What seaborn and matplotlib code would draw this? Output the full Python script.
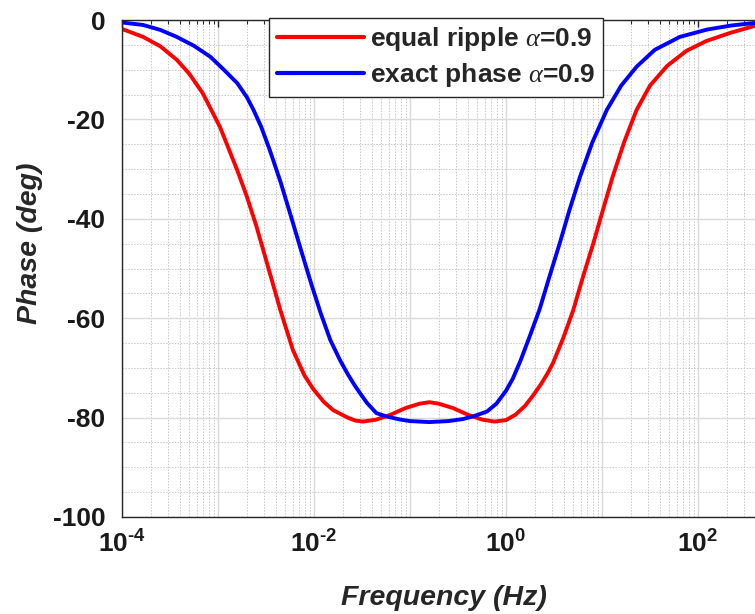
import numpy as np
import pandas as pd
import matplotlib
matplotlib.use("Agg")
import matplotlib.pyplot as plt
import matplotlib.ticker as mticker
import seaborn as sns

# ---- data (log10 of frequency in Hz, phase in deg) ----
red_logf = [-4.0, -3.78, -3.6, -3.43, -3.3, -3.16, -2.98, -2.8, -2.7, -2.6, -2.49,
            -2.35, -2.22, -2.1, -2.01, -1.9, -1.8, -1.65, -1.57, -1.49, -1.35, -1.2,
            -1.05, -0.9, -0.8, -0.7, -0.55, -0.4, -0.25, -0.12, 0.0, 0.1, 0.2, 0.28,
            0.36, 0.43, 0.49, 0.6, 0.7, 0.8, 0.91, 1.01, 1.11, 1.23, 1.36, 1.5, 1.68,
            1.88, 2.09, 2.35, 2.59, 2.8, 3.0]
red_phase = [-1.8, -3.4, -5.3, -8.0, -10.8, -14.7, -21.5, -30.2, -35.5, -41.5, -48.9,
             -58.4, -66.4, -71.5, -74.2, -76.8, -78.5, -80.0, -80.6, -80.8, -80.4, -79.4,
             -78.1, -77.2, -76.9, -77.2, -78.1, -79.4, -80.4, -80.8, -80.5, -79.4, -77.6, -75.6,
             -73.4, -71.2, -69.0, -63.8, -58.4, -51.8, -44.9, -38.2, -31.6, -24.6, -18.1, -13.2, -9.2,
             -6.2, -4.2, -2.5, -1.2, -0.8, -0.5]

blue_logf = [-4.0, -3.78, -3.6, -3.43, -3.25, -3.08, -2.95, -2.8, -2.7, -2.63, -2.55,
             -2.46, -2.35, -2.24, -2.14, -2.03, -1.93, -1.83, -1.73, -1.65, -1.58, -1.52,
             -1.45, -1.35, -1.24, -1.1, -1.0, -0.8, -0.6, -0.45, -0.35, -0.2, -0.1, 0.0,
             0.07, 0.15, 0.25, 0.35, 0.45, 0.56, 0.66, 0.77, 0.9, 1.05, 1.2, 1.36, 1.55,
             1.81, 2.1, 2.35, 2.59, 3.0]
blue_phase = [-0.5, -1.0, -2.0, -3.4, -5.2, -7.4, -9.8, -12.7, -15.5, -18.1, -21.5,
              -26.2, -32.5, -39.5, -46.0, -53.0, -59.0, -64.4, -68.4, -71.2, -73.4, -75.1,
              -77.0, -79.1, -79.8, -80.4, -80.7, -80.9, -80.7, -80.3, -79.8, -78.8, -77.2, -74.6,
              -72.2, -68.6, -63.5, -58.2, -51.8, -44.9, -38.3, -31.6, -24.6, -18.1, -13.2, -9.4, -6.0,
              -3.4, -1.9, -1.1, -0.6, -0.2]

series_names = ["equal ripple $\\alpha$=0.9", "exact phase $\\alpha$=0.9"]
series_colors = ["#ff0000", "#0000ff"]
y_ticks = [0, -20, -40, -60, -80, -100]
x_tick_exps = [-4, -3, -2, -1, 0, 1, 2, 3]
x_label_exps = [-4, -2, 0, 2]

df = pd.concat([
    pd.DataFrame({"f": np.power(10.0, red_logf), "phase": red_phase, "series": series_names[0]}),
    pd.DataFrame({"f": np.power(10.0, blue_logf), "phase": blue_phase, "series": series_names[1]}),
], ignore_index=True)

sns.set_style("white")
plt.rcParams["font.family"] = ["Liberation Sans", "DejaVu Sans"]
plt.rcParams["mathtext.fontset"] = "custom"
plt.rcParams["mathtext.rm"] = "Liberation Sans:bold"
plt.rcParams["mathtext.bf"] = "Liberation Sans:bold"
plt.rcParams["mathtext.it"] = "Liberation Serif:italic"

fig = plt.figure(figsize=(7.55, 6.14), dpi=100)
ax = fig.add_axes([122 / 755, (614 - 517) / 614, (794 - 122) / 755, 497 / 614])

sns.lineplot(data=df, x="f", y="phase", hue="series", palette=series_colors,
             linewidth=2.8, ax=ax, sort=False, estimator=None)
for ln in ax.get_lines():
    ln.set_solid_joinstyle("round")

ax.set_xscale("log")
ax.set_xlim(1e-4, 1e3)
ax.set_ylim(-100, 0)

axis_col = "#262626"


def xlab(e):
    if e not in x_label_exps:
        return ""
    if e < 0:
        return "$\\mathbf{10^{\\text{-}%d}}$" % (-e)
    return "$\\mathbf{10^{%d}}$" % e


ax.set_xticks([10.0 ** e for e in x_tick_exps])
ax.set_xticklabels([xlab(e) for e in x_tick_exps])
ax.xaxis.set_minor_locator(mticker.LogLocator(base=10, subs=np.arange(2, 10)))
ax.xaxis.set_minor_formatter(mticker.NullFormatter())
ax.set_yticks(y_ticks)
ax.set_yticklabels([str(v) for v in y_ticks])
ax.yaxis.set_minor_locator(mticker.MultipleLocator(5))

ax.grid(True, which="major", color="#dadada", linewidth=1.0, linestyle="-")
ax.grid(True, which="minor", color="#c8c8c8", linewidth=0.7, linestyle=(0, (1.5, 1.5)))
ax.set_axisbelow(True)

ax.tick_params(axis="both", which="major", direction="in", length=5, width=1,
               colors=axis_col, labelsize=19, top=True, right=True)
ax.tick_params(axis="x", which="major", pad=10)
ax.tick_params(axis="y", which="major", pad=12)
ax.tick_params(axis="both", which="minor", direction="in", length=3, width=0.8,
               colors=axis_col, top=True, right=True)
for lab in ax.get_xticklabels() + ax.get_yticklabels():
    lab.set_fontweight("bold")
    lab.set_color("#1a1a1a")
for s in ax.spines.values():
    s.set_color(axis_col)
    s.set_linewidth(1.0)

ax.set_xlabel("Frequency (Hz)", fontsize=20.5, fontweight="bold", fontstyle="italic",
              color="#262626", va="center")
ax.set_ylabel("Phase (deg)", fontsize=20.5, fontweight="bold", fontstyle="italic",
              color="#262626", va="center")
ax.xaxis.set_label_coords((444 - 122) / 672, -(598 - 517) / 497)
ax.yaxis.set_label_coords((30 - 122) / 672, (517 - 243) / 497)

handles, labels = ax.get_legend_handles_labels()
leg = ax.legend(handles, labels, loc="upper center", bbox_to_anchor=(436 / 755, 1 - 18 / 614),
                bbox_transform=fig.transFigure, fontsize=19, frameon=True, fancybox=False,
                edgecolor="#262626", framealpha=1, handlelength=3.3, borderpad=0.28,
                labelspacing=0.3, handletextpad=0.25, borderaxespad=0)
leg.get_frame().set_linewidth(1.0)
for t in leg.get_texts():
    t.set_fontweight("bold")
for ln in leg.get_lines():
    ln.set_linewidth(3.0)

fig.savefig("out.png", dpi=100)
